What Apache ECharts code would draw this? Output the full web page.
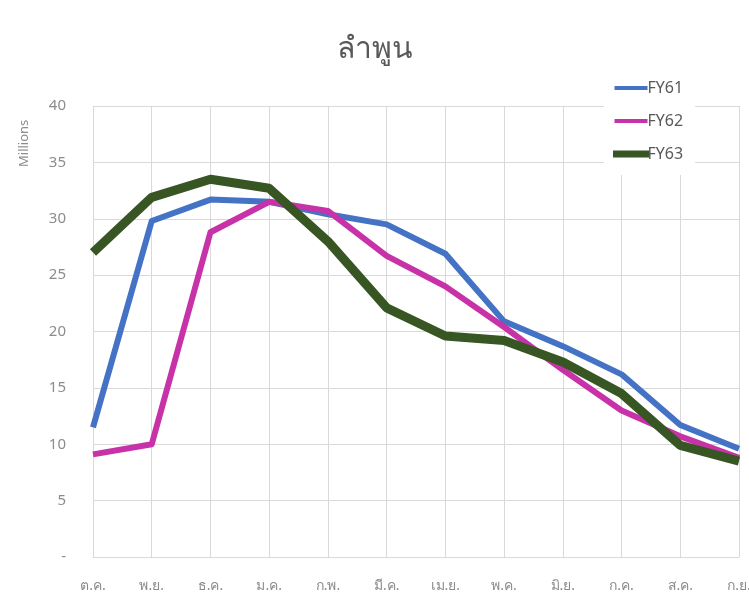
<!DOCTYPE html>
<html>
<head>
<meta charset="utf-8">
<script src="https://cdn.jsdelivr.net/npm/echarts@6/dist/echarts.min.js"></script>
<style>
html,body{margin:0;padding:0;background:#fff;overflow:hidden;}
#c{width:749px;height:596px;}
</style>
</head>
<body>
<div id="c"></div>
<script>
const titleText = 'ลำพูน';
const yAxisName = 'Millions';
const categories = ['ต.ค.','พ.ย.','ธ.ค.','ม.ค.','ก.พ.','มี.ค.','เม.ย.','พ.ค.','มิ.ย.','ก.ค.','ส.ค.','ก.ย.'];
const fy61 = [11.5, 29.8, 31.7, 31.5, 30.4, 29.5, 26.9, 20.9, 18.7, 16.2, 11.7, 9.6];
const fy62 = [9.1, 10.0, 28.8, 31.5, 30.7, 26.7, 24.0, 20.4, 16.6, 13.0, 10.7, 8.8];
const fy63 = [27.0, 31.9, 33.5, 32.7, 28.0, 22.1, 19.6, 19.2, 17.3, 14.5, 9.9, 8.5];
const yTicks = [0, 5, 10, 15, 20, 25, 30, 35, 40];

const chart = echarts.init(document.getElementById('c'), null, {renderer:'canvas'});
const font = "'Noto Sans', 'Open Sans', sans-serif";
chart.setOption({
  animation: false,
  backgroundColor: '#fff',
  textStyle: {fontFamily: font},
  title: {
    text: titleText, left: 'center', top: 29,
    textStyle: {fontSize: 30, fontWeight: 'normal', color: '#595959', fontFamily: font}
  },
  graphic: [{
    type: 'text', x: 18, y: 167, rotation: Math.PI / 2,
    style: {text: yAxisName, fill: '#8c8c8c', font: "13px 'Noto Sans', sans-serif",
      textAlign: 'left', textVerticalAlign: 'top'}
  }],
  legend: {
    orient: 'vertical', left: 604, top: 70,
    itemWidth: 33, itemHeight: 4, itemGap: 17,
    backgroundColor: '#fff', padding: [10, 12, 13, 9],
    textStyle: {fontSize: 16, color: '#595959', padding: [0,0,0,-5]},
    data: [
      {name: 'FY61', icon: 'rect'},
      {name: 'FY62', icon: 'rect'},
      {name: 'FY63', icon: 'rect', itemStyle: {borderColor: '#375623', borderWidth: 3}}
    ]
  },
  grid: {left: 93, right: 10, top: 106, bottom: 39, containLabel: false, outerBoundsMode: 'none'},
  xAxis: {
    type: 'category', data: categories, boundaryGap: false,
    axisLine: {show: true, lineStyle: {color: '#d9d9d9', width: 1}},
    axisTick: {show: false},
    splitLine: {show: true, lineStyle: {color: '#d9d9d9', width: 1}},
    axisLabel: {color: '#8c8c8c', fontSize: 14, margin: 22, interval: 0}
  },
  yAxis: {
    type: 'value', min: yTicks[0], max: yTicks[yTicks.length-1], interval: 5,
    axisLine: {show: true, lineStyle: {color: '#d9d9d9'}},
    axisTick: {show: false},
    splitLine: {show: true, lineStyle: {color: '#d9d9d9', width: 1}},
    axisLabel: {color: '#8c8c8c', fontSize: 15, margin: 27,
      formatter: v => v === 0 ? '-' : String(v)}
  },
  series: [
    {name: 'FY61', type: 'line', data: fy61, showSymbol: false, symbol: 'none',
     lineStyle: {color: '#4472C4', width: 6, join: 'round'}, itemStyle: {color: '#4472C4'}, z: 3},
    {name: 'FY62', type: 'line', data: fy62, showSymbol: false, symbol: 'none',
     lineStyle: {color: '#C832A8', width: 6, join: 'round'}, itemStyle: {color: '#C832A8'}, z: 4},
    {name: 'FY63', type: 'line', data: fy63, showSymbol: false, symbol: 'none',
     lineStyle: {color: '#375623', width: 9, join: 'round'}, itemStyle: {color: '#375623'}, z: 5}
  ]
});
</script>
</body>
</html>
